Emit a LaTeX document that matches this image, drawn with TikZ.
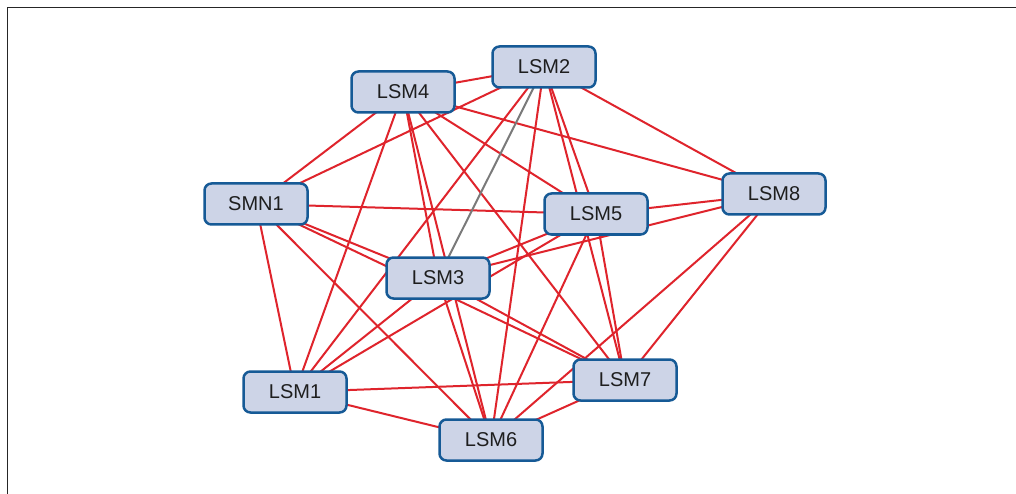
\documentclass[tikz,border=0pt]{standalone}
\usepackage{fontspec}
\setmainfont{Liberation Sans}
\usetikzlibrary{backgrounds}
\definecolor{edgered}{HTML}{DF242C}
\definecolor{edgegrey}{HTML}{7A7A7A}
\definecolor{boxfill}{HTML}{CDD4E7}
\definecolor{boxline}{HTML}{165A96}
\definecolor{txt}{HTML}{1E1E1E}
\begin{document}
\begin{tikzpicture}[x=1pt,y=-1pt,
  lsm/.style={draw=boxline, fill=boxfill, line width=2.5pt, rounded corners=7pt,
    minimum width=103pt, minimum height=41pt, inner sep=0pt,
    text=txt, font=\fontsize{20}{23}\selectfont},
  rel/.style={draw=edgered, line width=2pt},
  relgrey/.style={draw=edgegrey, line width=2pt},
  frameline/.style={line width=1pt, black!85}]
\useasboundingbox (0,0) rectangle (1016,494);
\coordinate (fa) at (7,494);
\coordinate (fb) at (7,8);
\coordinate (fc) at (1016,8);

\node[lsm] (LSM2) at (544,67) {LSM2};
\node[lsm] (LSM4) at (403,92) {LSM4};
\node[lsm] (SMN1) at (256,204) {SMN1};
\node[lsm] (LSM5) at (596,214) {LSM5};
\node[lsm] (LSM8) at (774,194) {LSM8};
\node[lsm] (LSM3) at (438,278) {LSM3};
\node[lsm] (LSM1) at (295,392) {LSM1};
\node[lsm] (LSM7) at (625,380) {LSM7};
\node[lsm] (LSM6) at (491,440) {LSM6};

\begin{pgfonlayer}{background}
\fill[white] (0,0) rectangle (1016,494);
\draw[frameline] (fa) -- (fb) -- (fc);
\foreach \a/\b in {LSM2/LSM4, LSM2/SMN1, LSM2/LSM1, LSM2/LSM6, LSM2/LSM7,
  LSM2/LSM5, LSM2/LSM8, LSM4/SMN1, LSM4/LSM1, LSM4/LSM3, LSM4/LSM6,
  LSM4/LSM7, LSM4/LSM5, LSM4/LSM8, SMN1/LSM5, SMN1/LSM3, SMN1/LSM7,
  SMN1/LSM6, SMN1/LSM1, LSM5/LSM8, LSM3/LSM8, LSM3/LSM5, LSM1/LSM5,
  LSM5/LSM7, LSM5/LSM6, LSM3/LSM1, LSM3/LSM6, LSM3/LSM7, LSM8/LSM6,
  LSM8/LSM7, LSM1/LSM7, LSM1/LSM6, LSM7/LSM6}
  \draw[rel] (\a.center) -- (\b.center);
\draw[relgrey] (LSM2.center) -- (LSM3.center);
\end{pgfonlayer}
\end{tikzpicture}
\end{document}
